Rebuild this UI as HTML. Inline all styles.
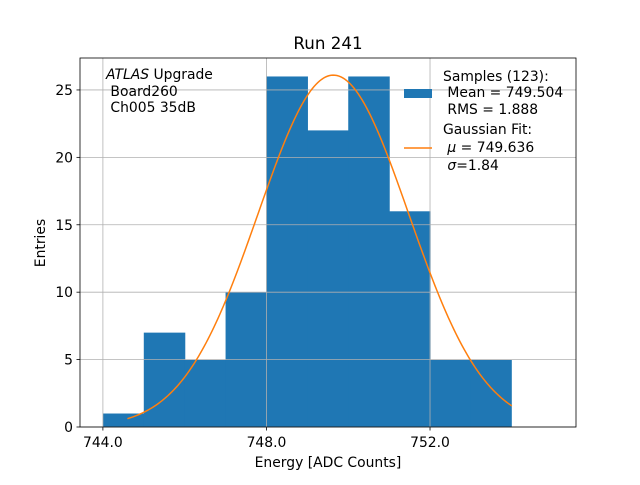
<!DOCTYPE html>
<html><head><meta charset="utf-8"><style>
body{margin:0;background:#fff;}
svg text{font-family:"DejaVu Sans","Liberation Sans",sans-serif;}
</style></head><body>
<svg id="c" width="640" height="480" xmlns="http://www.w3.org/2000/svg"></svg>
<script>
const binEdges=[744,745,746,747,748,749,750,751,752,753,754];
const binCounts=[1,7,5,10,26,22,26,16,5,5];
const xTicks=[744,748,752];
const xTickLabels=["744.0","748.0","752.0"];
const yTicks=[0,5,10,15,20,25];
const fitMu=749.636, fitSigma=1.84, fitAmp=26.1, fitStart=744.6, fitEnd=754.0;

const L=80,R=576,T=58,B=427,xMin=743.44,xMax=755.57,yMin=0,yMax=27.37;
const X=v=>L+(v-xMin)/(xMax-xMin)*(R-L);
const Y=v=>B-(v-yMin)/(yMax-yMin)*(B-T);
const svg=document.getElementById('c');
const NS='http://www.w3.org/2000/svg';
function mk(tag,attrs,parent){const e=document.createElementNS(NS,tag);for(const k in attrs)e.setAttribute(k,attrs[k]);(parent||svg).appendChild(e);return e;}

for(let i=0;i<binCounts.length;i++){
  const last=i===binCounts.length-1;
  const r=mk('rect',{x:X(binEdges[i]),y:Y(binCounts[i]),width:X(binEdges[i+1])-X(binEdges[i])+(last?0:0.6),height:Y(0)-Y(binCounts[i]),fill:'#1f77b4'});
  
  
}
xTicks.forEach((t,i)=>{
  const g=mk('line',{x1:X(t),x2:X(t),y1:T,y2:B,stroke:'#b0b0b0','stroke-width':0.8});
  
  
  mk('line',{x1:X(t),x2:X(t),y1:B,y2:B+3.5,stroke:'#000','stroke-width':0.8});
  const tx=mk('text',{x:X(t),y:B+20,'font-size':13.9,'text-anchor':'middle'});
  tx.textContent=xTickLabels[i];
  
  
});
yTicks.forEach(t=>{
  const g=mk('line',{x1:L,x2:R,y1:Y(t),y2:Y(t),stroke:'#b0b0b0','stroke-width':0.8});
  
  
  mk('line',{x1:L-3.5,x2:L,y1:Y(t),y2:Y(t),stroke:'#000','stroke-width':0.8});
  const tx=mk('text',{x:L-7,y:Y(t)+5,'font-size':13.9,'text-anchor':'end'});
  tx.textContent=t;
  
  
});
let d='';
for(let i=0;i<=200;i++){const x=fitStart+(fitEnd-fitStart)*i/200;const y=fitAmp*Math.exp(-((x-fitMu)**2)/(2*fitSigma*fitSigma));d+=(i?'L':'M')+X(x).toFixed(2)+','+Y(y).toFixed(2);}
const p=mk('path',{d:d,fill:'none',stroke:'#ff7f0e','stroke-width':1.5});


const f=mk('rect',{x:L,y:T,width:R-L,height:B-T,fill:'none',stroke:'#000','stroke-width':0.8});


</script>
<svg width="640" height="480" style="position:absolute;left:0;top:0" xmlns="http://www.w3.org/2000/svg">
<text x="328" y="49" font-size="16.7" text-anchor="middle">Run 241</text>
<text x="328" y="467" font-size="13.9" text-anchor="middle">Energy [ADC Counts]</text>
<text x="45" y="243" font-size="13.9" text-anchor="middle" transform="rotate(-90 45 243)">Entries</text>
<g font-size="13.9">
<text x="106" y="79"><tspan font-style="italic">ATLAS</tspan> Upgrade</text>
<text x="106" y="96" xml:space="preserve"> Board260</text>
<text x="106" y="112" xml:space="preserve"> Ch005 35dB</text>
</g>
<g font-size="13.9">
<rect x="404" y="89" width="28" height="9" fill="#1f77b4"/>
<text x="443" y="81">Samples (123):</text>
<text x="443" y="97" xml:space="preserve"> Mean = 749.504</text>
<text x="443" y="114" xml:space="preserve"> RMS = 1.888</text>
<line x1="404" x2="432" y1="148" y2="148" stroke="#ff7f0e" stroke-width="1.5"/>
<text x="443" y="134">Gaussian Fit:</text>
<text x="443" y="152" xml:space="preserve"> <tspan font-style="italic">μ</tspan> = 749.636</text>
<text x="443" y="170" xml:space="preserve"> <tspan font-style="italic">σ</tspan>=1.84</text>
</g>
</svg>
</body></html>
